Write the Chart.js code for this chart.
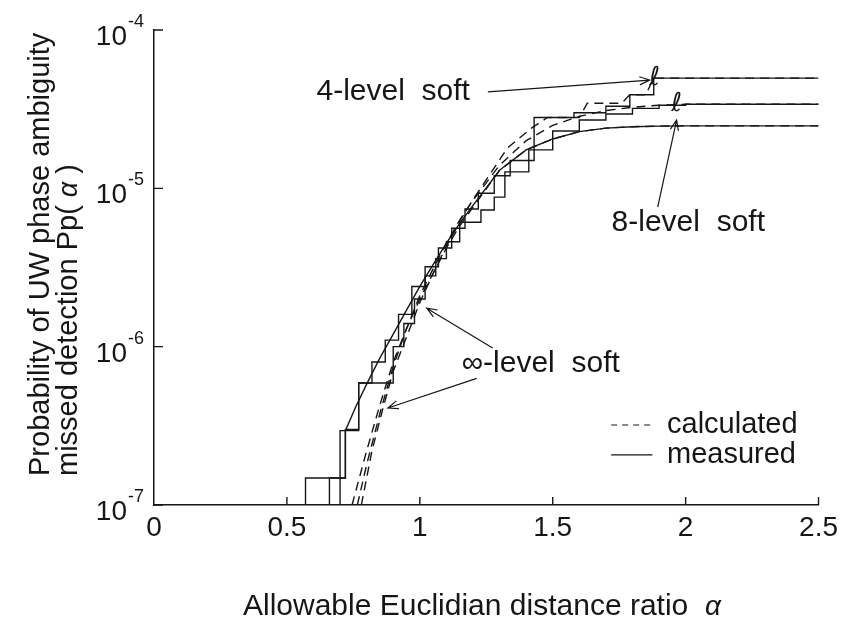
<!DOCTYPE html>
<html lang="en">
<head>
<meta charset="UTF-8">
<title>Probability of UW phase ambiguity missed detection</title>
<script src="https://cdn.jsdelivr.net/npm/chart.js"></script>
<style>
  html, body { margin: 0; padding: 0; background: #fff; }
  .wrap { width: 844px; height: 624px; position: relative; }
</style>
</head>
<body>
<div class="wrap"><canvas id="chart"></canvas></div>
<script>
// axis ticks
const xTickLabels = ['0', '0.5', '1', '1.5', '2', '2.5'];
const xTickValues = [0, 0.5, 1, 1.5, 2, 2.5];
const yTickValues = [1e-4, 1e-5, 1e-6, 1e-7];
const yTickExps = ['-4', '-5', '-6', '-7'];

// calculated (dashed)
const calcInfAlpha = [0.745, 0.8, 0.85, 0.9, 0.95, 1.0, 1.05, 1.1, 1.15, 1.2, 1.3, 1.4, 1.5, 1.6, 1.7, 1.8, 1.9, 2.0, 2.2, 2.5];
const calcInfP = [1e-7, 2.2e-7, 4.3e-7, 8e-7, 1.3e-6, 2.0e-6, 2.9e-6, 4.2e-6, 5.8e-6, 7.6e-6, 1.3e-5, 1.75e-5, 2.05e-5, 2.28e-5, 2.4e-5, 2.45e-5, 2.47e-5, 2.48e-5, 2.48e-5, 2.48e-5];
const calc8Alpha = [0.765, 0.8, 0.85, 0.9, 0.95, 1.0, 1.05, 1.1, 1.15, 1.2, 1.3, 1.4, 1.5, 1.6, 1.7, 1.8, 1.9, 2.0, 2.2, 2.5];
const calc8P = [1e-7, 1.8e-7, 3.8e-7, 7.5e-7, 1.3e-6, 2.1e-6, 3.1e-6, 4.5e-6, 6.3e-6, 8.4e-6, 1.4e-5, 2.0e-5, 2.5e-5, 2.85e-5, 3.1e-5, 3.25e-5, 3.35e-5, 3.4e-5, 3.4e-5, 3.4e-5];
const calc4Alpha = [0.78, 0.82, 0.86, 0.9, 0.95, 1.0, 1.05, 1.1, 1.15, 1.2, 1.26, 1.33, 1.42, 1.48, 1.6, 1.63, 1.76, 1.79, 1.85, 1.88, 2.5];
const calc4P = [1e-7, 2.2e-7, 4e-7, 7e-7, 1.15e-6, 1.9e-6, 2.9e-6, 4.3e-6, 6.2e-6, 8.5e-6, 1.2e-5, 1.8e-5, 2.4e-5, 2.8e-5, 2.8e-5, 3.45e-5, 3.45e-5, 3.9e-5, 3.9e-5, 4.97e-5, 4.97e-5];

// measured (solid)
const measInfAlpha = [0.66, 0.66, 0.72, 0.72, 0.76, 0.8, 0.85, 0.9, 0.95, 1.0, 1.05, 1.1, 1.15, 1.2, 1.3, 1.4, 1.5, 1.6, 1.7, 1.8, 1.9, 2.0, 2.5];
const measInfP = [1e-7, 1.48e-7, 1.48e-7, 2.95e-7, 4.2e-7, 5.8e-7, 8.5e-7, 1.2e-6, 1.7e-6, 2.4e-6, 3.3e-6, 4.5e-6, 6.0e-6, 7.8e-6, 1.3e-5, 1.75e-5, 2.05e-5, 2.28e-5, 2.4e-5, 2.45e-5, 2.47e-5, 2.48e-5, 2.48e-5];
const meas8Alpha = [0.7, 0.7, 0.77, 0.9, 0.94, 0.98, 1.02, 1.06, 1.1, 1.15, 1.23, 1.28, 1.32, 1.41, 1.5, 1.6, 1.7, 1.8, 1.9, 2.0, 2.5];
const meas8P = [1e-7, 2.95e-7, 5.9e-7, 1.0e-6, 1.4e-6, 2.0e-6, 2.8e-6, 3.6e-6, 4.6e-6, 6.1e-6, 7.3e-6, 8.8e-6, 1.27e-5, 1.75e-5, 2.3e-5, 2.7e-5, 2.95e-5, 3.2e-5, 3.35e-5, 3.4e-5, 3.4e-5];
const meas4Alpha = [0.57, 0.57, 0.72, 0.77, 0.82, 0.87, 0.92, 0.97, 1.02, 1.07, 1.12, 1.17, 1.22, 1.28, 1.34, 1.43, 1.58, 1.7, 1.79, 1.88, 2.5];
const meas4P = [1e-7, 1.48e-7, 3e-7, 5.9e-7, 8e-7, 1.1e-6, 1.6e-6, 2.4e-6, 3.2e-6, 4.2e-6, 5.6e-6, 7.4e-6, 9.3e-6, 1.2e-5, 1.5e-5, 2.8e-5, 3.0e-5, 3.3e-5, 3.9e-5, 4.97e-5, 4.97e-5];

// annotations, in data units (alpha, P)
const labels = [
  { text: '4-level  soft', x: 0.90, y: 4.07e-5 },
  { text: '8-level  soft', x: 2.01, y: 6.1e-6 },
  { text: '\u221E-level  soft', x: 1.455, y: 7.8e-7 }
];
const arrows = [
  { from: [1.256, 4.07e-5], to: [1.865, 4.83e-5] },
  { from: [1.895, 7.6e-6], to: [1.966, 2.7e-5] },
  { from: [1.274, 9.8e-7], to: [1.026, 1.75e-6] },
  { from: [1.214, 6.3e-7], to: [0.88, 4.1e-7] }
];
const breakMarks = [[1.883, 4.97e-5], [1.966, 3.4e-5]];
const legendRows = [
  { text: 'calculated', dash: [6, 5], y: 3.2e-7 },
  { text: 'measured', dash: [], y: 2.07e-7 }
];

const INK = '#161616';
const FONT = "'Liberation Sans', Arial, sans-serif";

function pts(xs, ys) { return xs.map((x, i) => ({ x: x, y: ys[i] })); }

function series(label, xs, ys, dashed, stepped) {
  return {
    label: label,
    data: pts(xs, ys),
    borderColor: INK,
    borderWidth: 1.4,
    borderDash: dashed ? [9, 6] : [],
    pointRadius: 0,
    stepped: stepped,
    tension: 0,
    fill: false
  };
}

function arrowLine(ctx, x1, y1, x2, y2) {
  ctx.beginPath();
  ctx.moveTo(x1, y1);
  ctx.lineTo(x2, y2);
  const a = Math.atan2(y2 - y1, x2 - x1);
  const h = 11;
  ctx.moveTo(x2 - h * Math.cos(a - 0.38), y2 - h * Math.sin(a - 0.38));
  ctx.lineTo(x2, y2);
  ctx.lineTo(x2 - h * Math.cos(a + 0.38), y2 - h * Math.sin(a + 0.38));
  ctx.stroke();
}

function drawRuns(ctx, runs, x, y) {
  runs.forEach(r => {
    ctx.font = r.font;
    ctx.fillText(r.text, x, y);
    x += ctx.measureText(r.text).width;
  });
}

const overlay = {
  id: 'overlay',
  afterDraw(chart) {
    const ctx = chart.ctx;
    const xs = chart.scales.x, ys = chart.scales.y;
    const area = chart.chartArea;
    ctx.save();
    ctx.strokeStyle = INK;
    ctx.fillStyle = INK;
    ctx.lineWidth = 1.4;

    // inward tick marks
    ctx.beginPath();
    yTickValues.forEach(v => {
      const y = ys.getPixelForValue(v);
      ctx.moveTo(area.left, y);
      ctx.lineTo(area.left + 9, y);
    });
    xTickValues.slice(1).forEach(v => {
      const x = xs.getPixelForValue(v);
      ctx.moveTo(x, area.bottom);
      ctx.lineTo(x, area.bottom - 8);
    });
    ctx.stroke();

    // y tick labels 10^n
    ctx.textBaseline = 'alphabetic';
    yTickValues.forEach((v, i) => {
      const y = ys.getPixelForValue(v);
      ctx.textAlign = 'right';
      ctx.font = '28px ' + FONT;
      ctx.fillText('10', area.left - 27, y + 15);
      ctx.textAlign = 'left';
      ctx.font = '18px ' + FONT;
      ctx.fillText(yTickExps[i], area.left - 26, y - 3);
    });

    // y axis title, two lines, rotated
    ctx.save();
    ctx.textAlign = 'left';
    ctx.translate(49, 476);
    ctx.rotate(-Math.PI / 2);
    drawRuns(ctx, [{ text: 'Probability of UW phase ambiguity', font: '29px ' + FONT }], 0, 0);
    drawRuns(ctx, [
      { text: 'missed detection Pp( ', font: '29px ' + FONT },
      { text: '\u03B1', font: 'italic 27px ' + FONT },
      { text: ' )', font: '29px ' + FONT }
    ], 0, 28);
    ctx.restore();

    // x axis title
    ctx.textAlign = 'left';
    drawRuns(ctx, [
      { text: 'Allowable Euclidian distance ratio  ', font: '30px ' + FONT },
      { text: '\u03B1', font: 'italic 28px ' + FONT }
    ], 243, 615);

    // curve labels and arrows
    ctx.textAlign = 'center';
    ctx.textBaseline = 'middle';
    ctx.font = '30px ' + FONT;
    labels.forEach(l => {
      ctx.fillText(l.text, xs.getPixelForValue(l.x), ys.getPixelForValue(l.y));
    });
    ctx.lineWidth = 1.2;
    arrows.forEach(a => {
      arrowLine(ctx, xs.getPixelForValue(a.from[0]), ys.getPixelForValue(a.from[1]),
        xs.getPixelForValue(a.to[0]), ys.getPixelForValue(a.to[1]));
    });

    // break marks on the curves
    ctx.font = '26px DejaVu Sans';
    breakMarks.forEach(b => {
      ctx.fillText('\u2113', xs.getPixelForValue(b[0]), ys.getPixelForValue(b[1]));
    });

    // legend
    ctx.font = '29px ' + FONT;
    ctx.textAlign = 'left';
    legendRows.forEach(r => {
      const y = ys.getPixelForValue(r.y);
      ctx.setLineDash(r.dash);
      ctx.beginPath();
      ctx.moveTo(xs.getPixelForValue(1.72), y);
      ctx.lineTo(xs.getPixelForValue(1.875), y);
      ctx.stroke();
      ctx.setLineDash([]);
      ctx.fillText(r.text, xs.getPixelForValue(1.93), y);
    });
    ctx.restore();
  }
};

new Chart(document.getElementById('chart'), {
  type: 'line',
  data: {
    datasets: [
      series('4-level calculated', calc4Alpha, calc4P, true, false),
      series('8-level calculated', calc8Alpha, calc8P, true, false),
      series('\u221E-level calculated', calcInfAlpha, calcInfP, true, false),
      series('4-level measured', meas4Alpha, meas4P, false, true),
      series('8-level measured', meas8Alpha, meas8P, false, true),
      series('\u221E-level measured', measInfAlpha, measInfP, false, false)
    ]
  },
  options: {
    responsive: true,
    maintainAspectRatio: false,
    animation: false,
    layout: { padding: { top: 30, right: 25, left: 0, bottom: 0 } },
    plugins: { legend: { display: false }, tooltip: { enabled: false } },
    scales: {
      x: {
        type: 'linear',
        min: 0,
        max: 2.5,
        grid: { display: false, drawTicks: false },
        border: { display: true, color: INK, width: 1.5 },
        ticks: {
          stepSize: 0.5,
          autoSkip: false,
          maxRotation: 0,
          padding: 6,
          color: INK,
          font: { family: FONT, size: 28 },
          callback: (v, i) => xTickLabels[i]
        },
        afterFit: s => { s.height = 119; }
      },
      y: {
        type: 'logarithmic',
        min: 1e-7,
        max: 1e-4,
        grid: { display: false, drawTicks: false },
        border: { display: true, color: INK, width: 1.5 },
        ticks: { display: false },
        afterFit: s => { s.width = 154; }
      }
    }
  },
  plugins: [overlay]
});
</script>
</body>
</html>
